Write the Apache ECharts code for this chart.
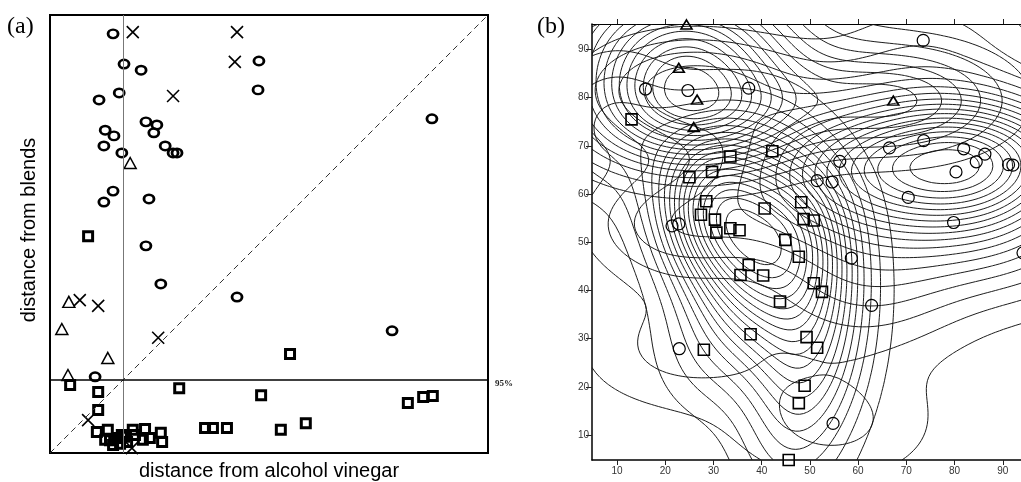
<!DOCTYPE html>
<html>
<head>
    <meta charset="utf-8">
    <title>distance plot and density contours</title>
    <script src="https://cdn.jsdelivr.net/npm/echarts@6.0.0/dist/echarts.min.js"></script>
    <style>
        html, body { margin: 0; padding: 0; background: #fff; }
        #box { width: 1021px; height: 482px; }
    </style>
</head>
<body>
    <div id="box"></div>
    <script>
        // ---- panel (a): distance from alcohol vinegar (x) vs distance from blends (y), 0-100 scale
        var aCircles = [[14.4,95.7],[16.9,88.8],[20.8,87.4],[15.8,82.2],[11.2,80.6],[21.9,75.6],[24.4,74.9],
            [23.7,73.1],[12.6,73.7],[14.6,72.4],[12.3,70.1],[16.4,68.5],[26.3,70.1],[28.1,68.5],[29.0,68.5],
            [14.4,59.8],[12.3,57.3],[22.6,58.0],[47.7,89.5],[47.5,82.9],[87.2,76.3],[21.9,47.3],[25.3,38.6],
            [42.7,35.6],[78.1,27.9],[10.3,17.4]];
        var aCrosses = [[18.9,96.1],[42.7,96.1],[42.2,89.3],[28.1,81.5],[6.8,34.9],[11.0,33.6],[24.7,26.3],
            [8.7,7.5],[18.7,1.1]];
        var aTriangles = [[18.3,66.2],[4.3,34.5],[2.7,28.3],[13.2,21.7],[4.1,17.8]];
        var aSquares = [[8.7,49.5],[54.8,22.6],[4.6,15.5],[11.0,13.9],[29.5,14.8],[48.2,13.2],[11.0,9.8],
            [10.7,4.8],[13.2,5.3],[12.6,3.0],[14.4,1.8],[16.4,4.1],[17.6,2.5],[19.4,4.1],[18.9,5.3],[21.7,5.5],
            [22.8,3.4],[25.3,4.6],[25.6,2.5],[21.2,3.0],[15.3,3.4],[16.0,2.1],[16.9,3.7],[13.7,2.9],
            [35.4,5.7],[37.2,5.7],[40.4,5.7],[52.7,5.3],[58.4,6.8],[81.7,11.4],[85.2,12.8],[87.4,13.0]];
        var aLimitX = 16.7;   // 95% limit, alcohol vinegar
        var aLimitY = 16.8;   // 95% limit, blends

        // ---- panel (b): score plot with density contours
        var bTriangles = [[24.4,95.2],[22.8,86.2],[26.6,79.6],[25.9,73.9],[67.3,79.4]];
        var bCircles = [[15.9,81.8],[24.7,81.5],[37.3,82.0],[73.5,91.9],[66.5,69.6],[73.6,71.1],[81.9,69.4],
            [86.3,68.3],[84.5,66.7],[91.2,66.1],[92.1,66.0],[80.3,64.6],[70.4,59.3],[79.8,54.1],[56.2,66.8],
            [51.5,62.8],[54.6,62.5],[58.6,46.7],[62.8,36.9],[94.2,47.8],[54.8,12.4],[22.9,27.9],[21.4,53.4],
            [22.8,53.8]];
        var bSquares = [[4.7,73.2],[13.0,75.5],[33.5,67.8],[42.2,68.9],[25.0,63.5],[29.7,64.6],[28.5,58.5],
            [27.4,55.7],[30.3,54.7],[30.6,52.0],[33.5,52.9],[35.4,52.5],[40.6,57.0],[48.2,58.3],[48.7,54.8],
            [50.8,54.5],[44.9,50.5],[47.7,47.0],[37.3,45.3],[35.6,43.2],[40.3,43.1],[50.8,41.5],[52.5,39.7],
            [43.8,37.7],[37.7,30.9],[28.0,27.7],[49.3,30.3],[51.5,28.1],[48.9,20.2],[47.7,16.6],[45.6,4.8]];
        var bTicks = [10, 20, 30, 40, 50, 60, 70, 80, 90];
        var bXMin = 4.8, bXMax = 94.2, bYMin = 4.8, bYMax = 95.3;

        // kernel density on a grid covering the axes of panel (b)
        function density(pts, hx, hy, nx, ny) {
            var xs = [], ys = [], z = [];
            for (var i = 0; i <= nx; i++) xs.push(bXMin + (bXMax - bXMin) * i / nx);
            for (var j = 0; j <= ny; j++) ys.push(bYMin + (bYMax - bYMin) * j / ny);
            for (j = 0; j <= ny; j++) {
                var row = [];
                for (i = 0; i <= nx; i++) {
                    var s = 0;
                    for (var k = 0; k < pts.length; k++) {
                        var dx = (xs[i] - pts[k][0]) / hx, dy = (ys[j] - pts[k][1]) / hy;
                        s += Math.exp(-0.5 * (dx * dx + dy * dy));
                    }
                    row.push(s);
                }
                z.push(row);
            }
            return {xs: xs, ys: ys, z: z};
        }

        var caseTable = {1: [[3,0]], 2: [[0,1]], 3: [[3,1]], 4: [[1,2]], 6: [[0,2]], 7: [[2,3]], 8: [[2,3]],
            9: [[0,2]], 11: [[1,2]], 12: [[1,3]], 13: [[0,1]], 14: [[3,0]]};

        // marching squares, segments chained into polylines
        function isolines(g, L) {
            var xs = g.xs, ys = g.ys, z = g.z, pts = {}, adj = {};
            function ep(key, x1, y1, v1, x2, y2, v2) {
                if (!pts[key]) {
                    var t = (L - v1) / (v2 - v1);
                    pts[key] = [x1 + t * (x2 - x1), y1 + t * (y2 - y1)];
                    adj[key] = [];
                }
                return key;
            }
            for (var j = 0; j < ys.length - 1; j++) {
                for (var i = 0; i < xs.length - 1; i++) {
                    var a = z[j][i], b = z[j][i + 1], c = z[j + 1][i + 1], d = z[j + 1][i];
                    var code = (a >= L ? 1 : 0) | (b >= L ? 2 : 0) | (c >= L ? 4 : 0) | (d >= L ? 8 : 0);
                    if (code === 0 || code === 15) continue;
                    var pairs;
                    var mid = (a + b + c + d) / 4;
                    if (code === 5) pairs = mid >= L ? [[0,1],[2,3]] : [[3,0],[1,2]];
                    else if (code === 10) pairs = mid >= L ? [[3,0],[1,2]] : [[0,1],[2,3]];
                    else pairs = caseTable[code];
                    var E = function (e) {
                        if (e === 0) return ep('h' + i + '_' + j, xs[i], ys[j], a, xs[i + 1], ys[j], b);
                        if (e === 1) return ep('v' + (i + 1) + '_' + j, xs[i + 1], ys[j], b, xs[i + 1], ys[j + 1], c);
                        if (e === 2) return ep('h' + i + '_' + (j + 1), xs[i], ys[j + 1], d, xs[i + 1], ys[j + 1], c);
                        return ep('v' + i + '_' + j, xs[i], ys[j], a, xs[i], ys[j + 1], d);
                    };
                    pairs.forEach(function (p) {
                        var k1 = E(p[0]), k2 = E(p[1]);
                        adj[k1].push(k2); adj[k2].push(k1);
                    });
                }
            }
            var used = {}, lines = [];
            function walk(start) {
                var line = [pts[start]], cur = start;
                used[start] = true;
                while (true) {
                    var nxt = null;
                    adj[cur].forEach(function (n) { if (nxt === null && !used[n]) nxt = n; });
                    if (nxt === null) break;
                    used[nxt] = true;
                    line.push(pts[nxt]);
                    cur = nxt;
                }
                return line;
            }
            var keys = Object.keys(adj);
            keys.forEach(function (k) { if (!used[k] && adj[k].length === 1) lines.push(walk(k)); });
            keys.forEach(function (k) {
                if (!used[k]) { var l = walk(k); l.push(l[0]); lines.push(l); }
            });
            return lines;
        }

        function contourSet(pts, hx, hy, n) {
            var g = density(pts, hx, hy, 110, 110);
            var mx = 0;
            g.z.forEach(function (r) { r.forEach(function (v) { if (v > mx) mx = v; }); });
            var out = [];
            for (var k = 1; k <= n; k++) out = out.concat(isolines(g, mx * k / (n + 1)));
            return out;
        }

        var contours = [].concat(
            contourSet(bSquares, 8, 10, 18),
            contourSet(bCircles, 15, 9, 18),
            contourSet(bTriangles, 15, 7.5, 15)
        );

        var myChart = echarts.init(document.getElementById('box'));
        var hollow = 'rgba(0,0,0,0)';
        var option = {
            animation: false,
            grid: [
                {left: 50, top: 15, width: 438, height: 438, show: true, borderColor: '#000', borderWidth: 2,
                    backgroundColor: 'transparent', outerBoundsMode: 'none'},
                {left: 592, top: 24, width: 431, height: 436, outerBoundsMode: 'none'}
            ],
            xAxis: [
                {gridIndex: 0, type: 'value', min: 0, max: 100, show: false},
                {gridIndex: 1, type: 'value', min: bXMin, max: bXMax, position: 'bottom',
                    axisLine: {lineStyle: {color: '#000', width: 1.5}},
                    axisTick: {length: 5, customValues: bTicks, lineStyle: {color: '#222'}},
                    axisLabel: {customValues: bTicks, fontSize: 10, color: '#333', margin: 6,
                        fontFamily: 'Liberation Sans'},
                    splitLine: {show: false}},
                {gridIndex: 1, type: 'value', min: bXMin, max: bXMax, position: 'top',
                    axisLine: {lineStyle: {color: '#000', width: 1}},
                    axisTick: {length: 5, customValues: bTicks, lineStyle: {color: '#222'}},
                    axisLabel: {show: false}, splitLine: {show: false}}
            ],
            yAxis: [
                {gridIndex: 0, type: 'value', min: 0, max: 100, show: false},
                {gridIndex: 1, type: 'value', min: bYMin, max: bYMax,
                    axisLine: {show: true, lineStyle: {color: '#000', width: 1.5}},
                    axisTick: {show: true, length: 6, customValues: bTicks, lineStyle: {color: '#222'}},
                    axisLabel: {customValues: bTicks, fontSize: 10, color: '#333', margin: 3,
                        fontFamily: 'Liberation Sans'},
                    splitLine: {show: false}}
            ],
            graphic: [
                {type: 'text', left: 7, top: 15, style: {text: '(a)', font: '24px "Liberation Serif"', fill: '#000'}},
                {type: 'text', left: 537, top: 15, style: {text: '(b)', font: '24px "Liberation Serif"', fill: '#000'}},
                {type: 'text', left: 495, top: 379, style: {text: '95%', font: 'bold 9px "Liberation Serif"', fill: '#222'}},
                {type: 'text', x: 269, y: 471, style: {text: 'distance from alcohol vinegar', align: 'center',
                    verticalAlign: 'middle', font: '20px "Liberation Sans"', fill: '#000'}},
                {type: 'text', x: 29, y: 230, rotation: Math.PI / 2, style: {text: 'distance from blends',
                    align: 'center', verticalAlign: 'middle', font: '20px "Liberation Sans"', fill: '#000'}}
            ],
            series: [
                {type: 'scatter', xAxisIndex: 0, yAxisIndex: 0, symbol: 'circle', symbolSize: [10, 8.5],
                    itemStyle: {color: hollow, borderColor: '#000', borderWidth: 2.6, opacity: 1}, data: aCircles,
                    markLine: {silent: true, symbol: 'none', label: {show: false}, animation: false,
                        data: [
                            [{coord: [0, 0], lineStyle: {type: [6, 4], color: '#333', width: 1}},
                                {coord: [100, 100]}],
                            {xAxis: aLimitX, lineStyle: {type: 'solid', color: '#777', width: 1}},
                            {yAxis: aLimitY, lineStyle: {type: 'solid', color: '#000', width: 1.5}}
                        ]}},
                {type: 'scatter', xAxisIndex: 0, yAxisIndex: 0, symbol: 'rect', symbolSize: 9,
                    itemStyle: {color: hollow, borderColor: '#000', borderWidth: 3, opacity: 1}, data: aSquares},
                {type: 'scatter', xAxisIndex: 0, yAxisIndex: 0, symbol: 'triangle', symbolSize: [12, 11],
                    itemStyle: {color: hollow, borderColor: '#000', borderWidth: 1.5, opacity: 1}, data: aTriangles},
                {type: 'scatter', xAxisIndex: 0, yAxisIndex: 0, symbol: 'path://M0,0L10,10M10,0L0,10', symbolSize: 12,
                    itemStyle: {color: hollow, borderColor: '#000', borderWidth: 1.6, opacity: 1}, data: aCrosses},
                {type: 'custom', xAxisIndex: 1, yAxisIndex: 1, silent: true, clip: true,
                    data: contours.map(function (l, i) { return [l[0][0], l[0][1], i]; }),
                    encode: {x: 0, y: 1},
                    renderItem: function (params, api) {
                        var line = contours[api.value(2)];
                        return {type: 'polyline', shape: {points: line.map(function (p) { return api.coord(p); })},
                            style: {stroke: '#111', lineWidth: 0.95, fill: 'none'}};
                    }},
                {type: 'scatter', xAxisIndex: 1, yAxisIndex: 1, symbol: 'circle', symbolSize: 12,
                    itemStyle: {color: hollow, borderColor: '#000', borderWidth: 1.2, opacity: 1}, data: bCircles},
                {type: 'scatter', xAxisIndex: 1, yAxisIndex: 1, symbol: 'rect', symbolSize: 11,
                    itemStyle: {color: hollow, borderColor: '#000', borderWidth: 1.6, opacity: 1}, data: bSquares},
                {type: 'scatter', xAxisIndex: 1, yAxisIndex: 1, symbol: 'triangle', symbolSize: [11, 9],
                    itemStyle: {color: hollow, borderColor: '#000', borderWidth: 1.6, opacity: 1}, data: bTriangles}
            ]
        };
        myChart.setOption(option);
    </script>
</body>
</html>
